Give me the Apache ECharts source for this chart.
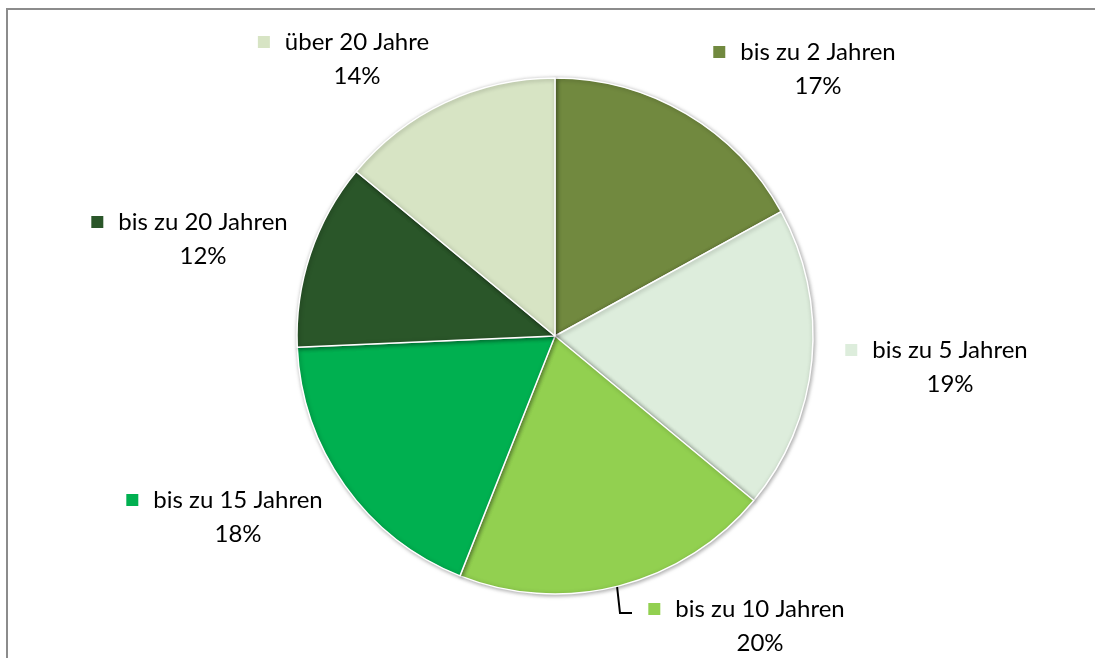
<!DOCTYPE html>
<html><head><meta charset="utf-8">
<script src="https://cdn.jsdelivr.net/npm/echarts@6/dist/echarts.min.js"></script>
<style>html,body{margin:0;padding:0;background:#fff}#c{width:1095px;height:658px}</style>
</head><body><div id="c"></div>
<script>
const categories = ['bis zu 2 Jahren','bis zu 5 Jahren','bis zu 10 Jahren','bis zu 15 Jahren','bis zu 20 Jahren','über 20 Jahre'];
const values = [17, 19, 20, 18.3, 11.7, 14];
const colors = ['#71893F','#DDEDDC','#92D050','#00B050','#2A5629','#D7E4C4'];
// label block centres (name text centre, middle between the two lines)
const labelPos = [[818,69],[950,367],[760,626],[238,517],[203,239],[357,59]];

const chart = echarts.init(document.getElementById('c'), null, {renderer:'canvas'});
const font = 'Lato, "Liberation Sans", sans-serif';
chart.setOption({
  animation:false,
  graphic:[{type:'rect',shape:{x:7,y:9,width:1200,height:800},style:{fill:'none',stroke:'#8c8c8c',lineWidth:2},silent:true}],
  series:[{
    type:'pie',
    center:[555,336],
    radius:[0,258],
    startAngle:90,
    clockwise:true,
    avoidLabelOverlap:false,
    itemStyle:{borderColor:'#fff',borderWidth:1.5,shadowBlur:4,shadowColor:'rgba(0,0,0,0.35)',shadowOffsetX:1,shadowOffsetY:1},
    label:{show:true,position:'outside',align:'center',lineHeight:34,
      formatter:p=>'{sq|}{nm|'+p.name+'}{pd|}\n{pc|'+Math.round(p.percent)+'%}',
      rich:{
        sq:{width:12,height:12,backgroundColor:'inherit'},
        nm:{fontFamily:font,fontSize:24,color:'#000',padding:[0,0,0,15]},
        pd:{width:27},
        pc:{fontFamily:font,fontSize:24,color:'#000'}
      }},
    labelLine:{show:false},
    labelLayout:p=>{
      const o={x:labelPos[p.dataIndex][0],y:labelPos[p.dataIndex][1],align:'center',verticalAlign:'middle'};
      if(p.dataIndex===2) o.labelLinePoints=[[617,586],[620,613],[632,613]];
      return o;
    },
    data:categories.map((c,i)=>({name:c,value:values[i],itemStyle:{color:colors[i]},
      labelLine: i===2?{show:true,lineStyle:{color:'#000',width:2}}:{show:false}}))
  }]
});
</script></body></html>
